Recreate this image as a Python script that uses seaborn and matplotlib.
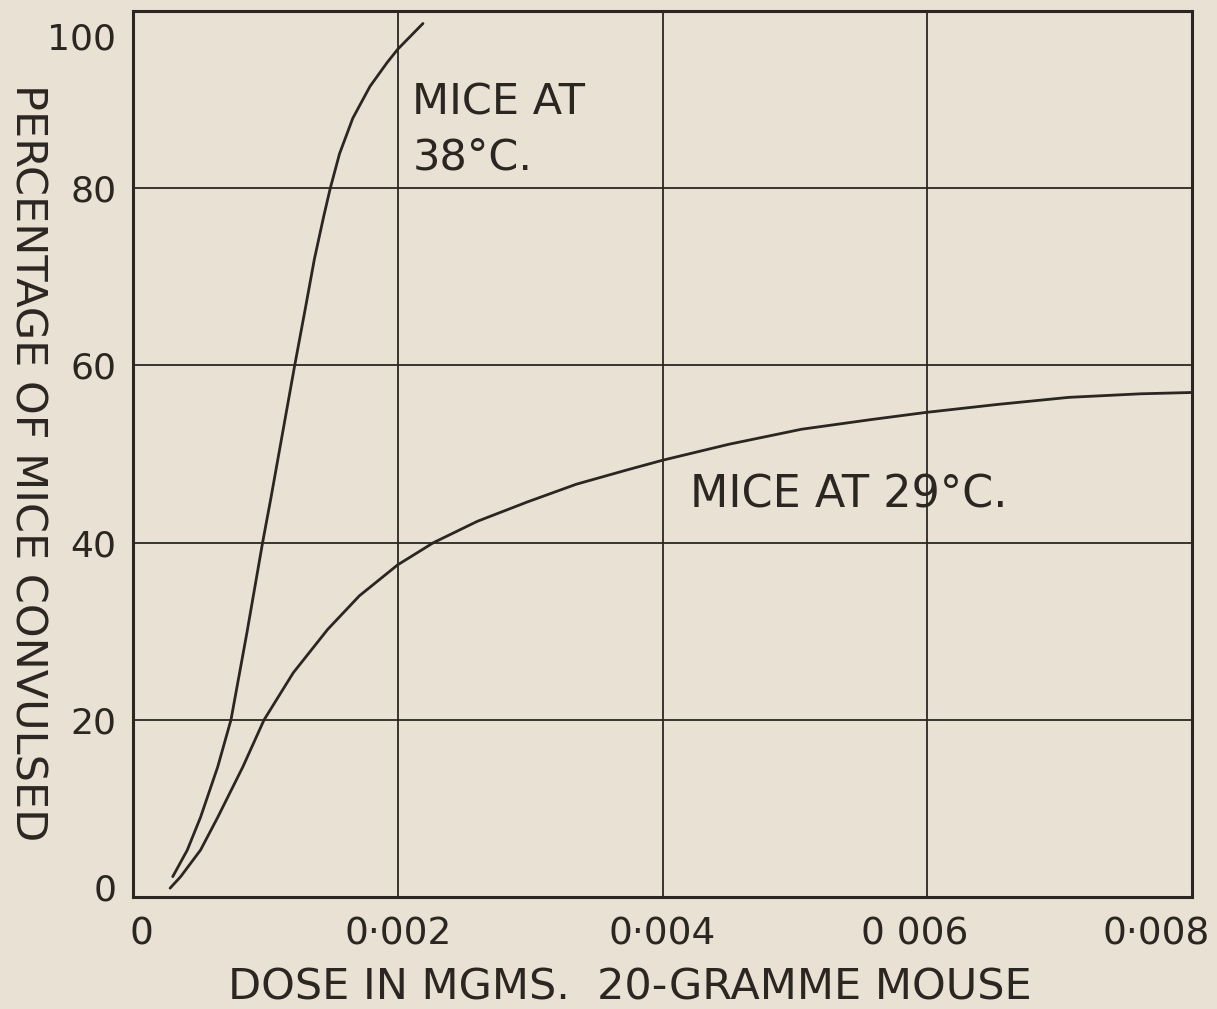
import numpy as np
import pandas as pd
import matplotlib
matplotlib.use("Agg")
import matplotlib.pyplot as plt
import matplotlib.transforms as mtransforms
import seaborn as sns

# ----------------------------------------------------------
# DATA
# ----------------------------------------------------------
dose_38 = [0.00030, 0.00041, 0.00051, 0.00064, 0.00074, 0.00086, 0.00098,
           0.00104, 0.00110, 0.00122, 0.00130, 0.00137, 0.00144, 0.00149,
           0.00156, 0.00166, 0.00179, 0.00192, 0.00200, 0.00219]
pct_38 = [2.3, 5.3, 9.0, 14.7, 20.0, 29.8, 40.1,
          44.9, 49.9, 59.9, 66.3, 72.0, 76.8, 80.0,
          83.9, 87.9, 91.5, 94.2, 95.7, 98.6]

dose_29 = [0.00028, 0.00036, 0.00051, 0.00064, 0.00083, 0.00099, 0.00121,
           0.00147, 0.00171, 0.00200, 0.00227, 0.00260, 0.00298, 0.00335,
           0.00373, 0.00400, 0.00450, 0.00505, 0.00558, 0.00599, 0.00653,
           0.00707, 0.00761, 0.00800]
pct_29 = [1.0, 2.3, 5.3, 9.0, 14.7, 20.0, 25.3,
          30.2, 34.0, 37.5, 40.0, 42.4, 44.6, 46.6,
          48.2, 49.3, 51.1, 52.8, 53.9, 54.7, 55.6,
          56.4, 56.8, 56.95]

x_ticks = [0, 0.002, 0.004, 0.006, 0.008]
x_tick_labels = ["0", "0·002", "0·004", "0 006", "0·008"]
y_ticks = [0, 20, 40, 60, 80, 100]
y_tick_labels = ["0", "20", "40", "60", "80", "100"]

# ----------------------------------------------------------
# STYLE
# ----------------------------------------------------------
PAPER = "#e9e1d3"
INK = "#2b2621"

sns.set_theme(style="white")
plt.rcParams["font.family"] = ["DejaVu Sans"]

df = pd.concat([
    pd.DataFrame({"dose": dose_38, "pct": pct_38, "group": "38"}),
    pd.DataFrame({"dose": dose_29, "pct": pct_29, "group": "29"}),
], ignore_index=True)

fig = plt.figure(figsize=(12.17, 10.09), dpi=100, facecolor=PAPER)
ax = fig.add_axes([0.1093, 0.111, 0.8702, 0.878])
ax.set_facecolor(PAPER)

sns.lineplot(data=df, x="dose", y="pct", units="group", estimator=None,
             sort=False, color=INK, linewidth=2.0, ax=ax, legend=False)

ax.set_xlim(0, 0.008)
ax.set_ylim(0, 100)
ax.set_xlabel("")
ax.set_ylabel("")
ax.set_xticks(x_ticks)
ax.set_xticklabels(x_tick_labels, fontsize=27, color=INK)
ax.set_yticks(y_ticks)
ax.set_yticklabels(y_tick_labels, fontsize=26, color=INK)
ax.tick_params(axis="x", length=0, pad=14)
ax.tick_params(axis="y", length=0, pad=12)

# hand-placed tick labels as in the printed figure
xlabs = ax.get_xticklabels()
xlabs[0].set_transform(xlabs[0].get_transform() +
                       mtransforms.ScaledTranslation(0.08, 0, fig.dpi_scale_trans))
xlabs[3].set_transform(xlabs[3].get_transform() +
                       mtransforms.ScaledTranslation(-0.13, 0, fig.dpi_scale_trans))
xlabs[4].set_ha("right")
xlabs[4].set_transform(xlabs[4].get_transform() +
                       mtransforms.ScaledTranslation(0.18, 0, fig.dpi_scale_trans))
ylabs = ax.get_yticklabels()
ylabs[-1].set_transform(ylabs[-1].get_transform() +
                        mtransforms.ScaledTranslation(0, -0.25, fig.dpi_scale_trans))
ylabs[0].set_transform(ylabs[0].get_transform() +
                       mtransforms.ScaledTranslation(0, 0.1, fig.dpi_scale_trans))

ax.grid(True, color=INK, linewidth=1.3)
for s in ax.spines.values():
    s.set_visible(True)
    s.set_color(INK)
    s.set_linewidth(2.2)

fig.text(630 / 1217, 1 - 988 / 1009, "DOSE IN MGMS.  20-GRAMME MOUSE",
         fontsize=31, color=INK, ha="center", va="center")
fig.text(27 / 1217, 1 - 463 / 1009, "PERCENTAGE OF MICE CONVULSED",
         fontsize=31, color=INK, rotation=270, ha="center", va="center")

ax.text(0.00211, 86.6, "MICE AT\n38°C.", fontsize=31, color=INK,
        ha="left", va="center", linespacing=1.4)
ax.text(0.00421, 45.4, "MICE AT 29°C.", fontsize=32, color=INK,
        ha="left", va="center")

fig.savefig("out.png", dpi=100, facecolor=PAPER)
